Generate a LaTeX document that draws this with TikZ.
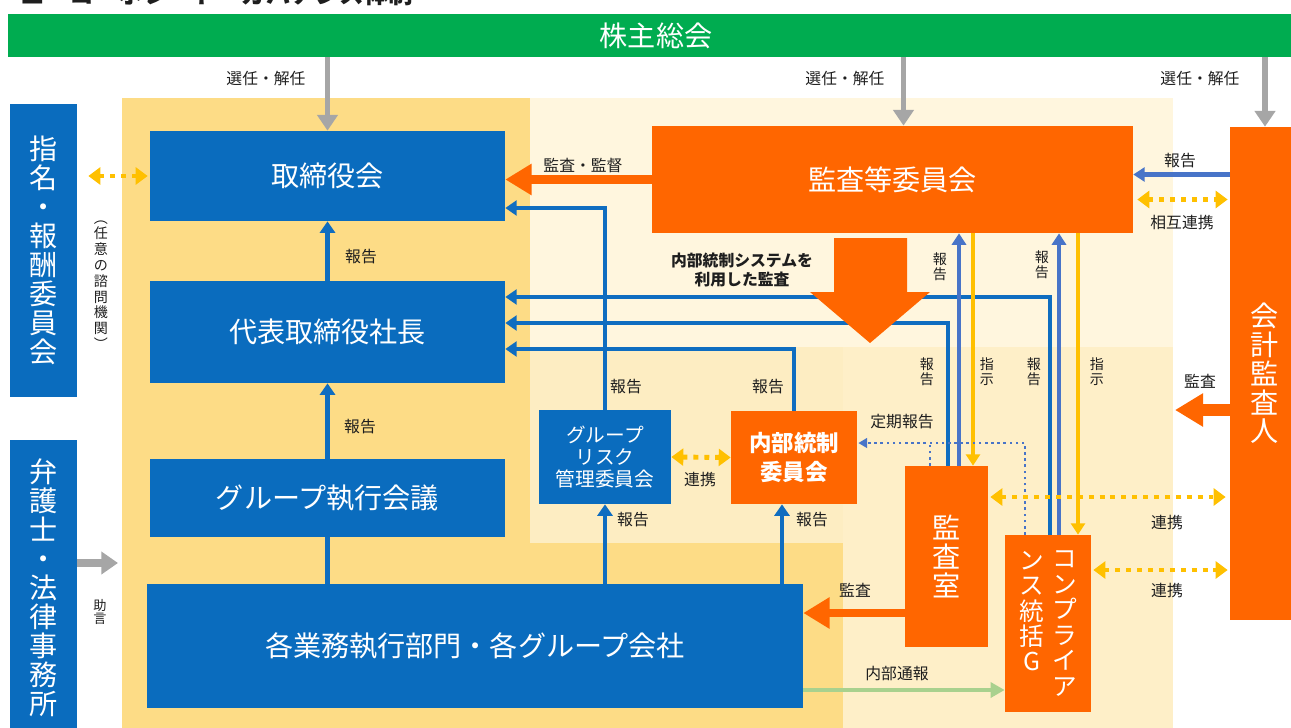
\documentclass[tikz,border=0pt]{standalone}
\usepackage{fontspec}
\setmainfont{Noto Sans CJK JP}
\usetikzlibrary{arrows.meta}
\usetikzlibrary{calc}

\definecolor{kabugreen}{HTML}{00AC50}
\definecolor{boxblue}{HTML}{0A6CBE}
\definecolor{lineblue}{HTML}{0F6DC0}
\definecolor{softblue}{HTML}{4874C8}
\definecolor{boxorange}{HTML}{FF6600}
\definecolor{amber}{HTML}{FFC000}
\definecolor{arrowgray}{HTML}{A6A6A6}
\definecolor{paleg}{HTML}{A9D18E}
\definecolor{bgdeep}{HTML}{FDDC86}
\definecolor{bglight}{HTML}{FFF6DE}
\definecolor{bgmid}{HTML}{FDEDC2}
\definecolor{bgmidr}{HTML}{FEEFC8}
\definecolor{ink}{HTML}{1E1E1E}

\tikzset{
  bluebox/.style={fill=boxblue, text=white, inner sep=0pt, align=center, font=\fontsize{16}{17}\selectfont},
  orbox/.style={fill=boxorange, text=white, inner sep=0pt, align=center, font=\fontsize{16}{17}\selectfont},
  tatebig/.style={text=white, inner sep=0pt, align=center, font=\fontsize{14}{14.5}\selectfont},
  lbl/.style={text=ink, inner sep=0pt, font=\fontsize{9}{11.3}\selectfont},
  tatelbl/.style={text=ink, inner sep=0pt, align=center, font=\fontsize{8}{8.6}\selectfont},
  grayarr/.style={draw=arrowgray, line width=3.4pt, -{Triangle[length=9pt,width=11.5pt]}},
  advarr/.style={draw=arrowgray, line width=4.5pt, -{Triangle[length=9.5pt,width=12.5pt]}},
  orarr/.style={draw=boxorange, line width=5pt, -{Triangle[length=15pt,width=17pt]}},
  orarrbig/.style={draw=boxorange, line width=6.5pt, -{Triangle[length=16pt,width=18pt]}},
  bluearr/.style={draw=lineblue, line width=2.8pt, -{Triangle[length=6.5pt,width=8.5pt]}},
  blueline/.style={draw=lineblue, line width=2.8pt},
  softarr/.style={draw=softblue, line width=2.6pt, -{Triangle[length=6.5pt,width=8pt]}},
  yarr/.style={draw=amber, line width=2.3pt, -{Triangle[length=6.5pt,width=8pt]}},
  ydots/.style={draw=amber, line width=2.8pt, dash pattern=on 2.8pt off 3.4pt,
    {Triangle[length=6.8pt,width=9.6pt]}-{Triangle[length=6.8pt,width=9.6pt]}},
  bdots/.style={draw=softblue, line width=1.5pt, dash pattern=on 1.5pt off 2pt},
  grarr/.style={draw=paleg, line width=2.3pt, -{Triangle[length=8pt,width=8.5pt]}}
}

\begin{document}
\begin{tikzpicture}[x=0.02cm, y=-0.02cm]
        \useasboundingbox (0,0) rectangle (1291,727);
        \clip (0,0) rectangle (1291,727);
        \fill[bgdeep] (122,98) rectangle (530,740);
        \fill[bgdeep] (530,543) rectangle (843,740);
        \fill[bglight] (530,98) rectangle (1173,347);
        \fill[bgmid] (530,347) rectangle (843,543);
        \fill[bgmidr] (843,347) rectangle (1173,740);
        \node[anchor=base west, inner sep=0pt, text=ink, font=\bfseries\fontsize{14}{14}\selectfont] (title) at (20,3.5) {■　コーポレート・ガバナンス体制};

        \node[fill=kabugreen, text=white, inner sep=0pt, minimum width=25.92cm, minimum height=0.86cm, font=\fontsize{16}{17}\selectfont] (holders) at (656,35.5) {株主総会};
        \node[bluebox, minimum width=7.1cm, minimum height=1.8cm] (board) at (327.5,176) {取締役会};
        \node[bluebox, minimum width=7.1cm, minimum height=2.04cm] (president) at (327.5,332) {代表取締役社長};
        \node[bluebox, minimum width=7.1cm, minimum height=1.56cm] (execmtg) at (327.5,498) {グループ執行会議};
        \node[bluebox, minimum width=13.12cm, minimum height=2.48cm] (divisions) at (475,646) {各業務執行部門・各グループ会社};
        \node[bluebox, minimum width=2.64cm, minimum height=1.88cm, font=\fontsize{11.2}{12.5}\selectfont] (riskcom) at (605,457) {グループ\\リスク\\管理委員会};
        \node[orbox, minimum width=2.52cm, minimum height=1.86cm, font=\bfseries\fontsize{12.8}{16}\selectfont] (iccom) at (794,457.5) {内部統制\\委員会};
        \node[orbox, minimum width=9.62cm, minimum height=2.14cm] (auditcom) at (892.5,179.5) {監査等委員会};
        \node[orbox, minimum width=1.66cm, minimum height=3.62cm, font=\fontsize{16}{16.6}\selectfont] (auditoff) at (946.5,556.5) {監\\査\\室};
        \node[orbox, minimum width=1.72cm, minimum height=3.54cm] (compli) at (1048,623.5) {};
        \node[tatebig, anchor=north] (compliR) at ($(compli.north)+(17,16)$) {コ\\ン\\プ\\ラ\\イ\\ア};
        \node[tatebig, anchor=north] (compliL) at ($(compli.north)+(-16,16)$) {ン\\ス\\統\\括\\G};
        \node[orbox, minimum width=1.4cm, minimum height=9.86cm, font=\fontsize{16}{16.4}\selectfont] (accaud) at (1265,373.5) {会\\計\\監\\査\\人};
        \node[bluebox, minimum width=1.34cm, minimum height=5.86cm, font=\fontsize{16}{16.5}\selectfont] (nomcom) at (43.5,250.5) {指\\名\\・\\報\\酬\\委\\員\\会};
        \node[bluebox, minimum width=1.34cm, minimum height=5.92cm, font=\fontsize{16}{16.5}\selectfont] (lawyers) at (43.5,588) {弁\\護\\士\\・\\法\\律\\事\\務\\所};

        \draw[grayarr] (holders.south -| board.north) -- (board.north);
        \coordinate (ac0) at ($(auditcom.north)+(11,0)$);
        \draw[grayarr] (holders.south -| ac0) -- (ac0);
        \draw[grayarr] (holders.south -| accaud.north) -- (accaud.north);
        \node[lbl] at (266,78) {選任・解任};
        \node[lbl] at (845,78) {選任・解任};
        \node[lbl] at (1200,78) {選任・解任};

        \draw[ydots] ($(nomcom.east |- board.west)+(11,0)$) -- ($(board.west)+(-2,0)$);
        \node[tatelbl, font=\fontsize{8}{9}\selectfont] at (101,285) {︵\\任\\意\\の\\諮\\問\\機\\関\\︶};
        \coordinate (advice) at (118,563);
        \draw[advarr] (lawyers.east |- advice) -- (advice);
        \node[tatelbl, font=\fontsize{7.5}{7.6}\selectfont] at (100,612) {助\\言};

        \draw[bluearr] (president.north) -- (board.south);
        \node[lbl] at (361,257) {報告};
        \draw[bluearr] (execmtg.north) -- (president.south);
        \node[lbl] at (360,427) {報告};
        \draw[blueline] (divisions.north -| execmtg.south) -- (execmtg.south);

        \draw[bluearr] (riskcom.north) |- ($(board.east)+(0,32)$);
        \node[lbl] at (626,387) {報告};
        \draw[bluearr] (iccom.north) |- ($(president.east)+(0,17)$);
        \node[lbl] at (768,387) {報告};
        \draw[bluearr] ($(auditoff.north)+(1.5,0)$) |- ($(president.east)+(0,-9)$);
        \draw[bluearr] ($(compli.north)+(2,0)$) |- ($(president.east)+(0,-35)$);
        \node[tatelbl] at (927,372) {報\\告};
        \node[tatelbl] at (1034,372) {報\\告};

        \coordinate (ao1) at ($(auditoff.north)+(12.5,0)$);
        \coordinate (ao2) at ($(auditoff.north)+(26.5,0)$);
        \coordinate (co1) at ($(compli.north)+(11,0)$);
        \coordinate (co2) at ($(compli.north)+(30,0)$);
        \draw[softarr] (ao1) -- (ao1 |- auditcom.south);
        \draw[softarr] (co1) -- (co1 |- auditcom.south);
        \draw[yarr] (ao2 |- auditcom.south) -- (ao2);
        \draw[yarr] (co2 |- auditcom.south) -- (co2);
        \node[tatelbl] at (940,267) {報\\告};
        \node[tatelbl] at (1042,265) {報\\告};
        \node[tatelbl] at (987,372) {指\\示};
        \node[tatelbl] at (1097,372) {指\\示};

        \fill[boxorange] (834,238) -- (907,238) -- (907,292) -- (930,292) -- (870,343) -- (810,292) -- (834,292) -- cycle;
        \node[lbl, align=center, font=\bfseries\fontsize{9}{11.3}\selectfont] at (742,270) {内部統制システムを\\利用した監査};

        \draw[orarr] (auditcom.west) -- (auditcom.west -| board.east);
        \node[lbl] at (583,165) {監査・監督};

        \draw[softarr] ($(accaud.west |- auditcom.east)+(0,-5)$) -- ($(auditcom.east)+(0,-5)$);
        \node[lbl] at (1180,161) {報告};
        \draw[ydots] ($(auditcom.east)+(4,20)$) -- ($(accaud.west |- auditcom.east)+(-2,20)$);
        \node[lbl] at (1182,223) {相互連携};

        \coordinate (audtip) at (1175,410);
        \draw[orarrbig] (accaud.west |- audtip) -- (audtip);
        \node[lbl] at (1200,381) {監査};

        \draw[ydots] (riskcom.east) -- (iccom.west);
        \node[lbl] at (700,479) {連携};
        \draw[bluearr] (divisions.north -| riskcom.south) -- (riskcom.south);
        \node[lbl] at (633,520) {報告};
        \coordinate (ic1) at ($(iccom.south)+(-12,0)$);
        \draw[bluearr] (divisions.north -| ic1) -- (ic1);
        \node[lbl] at (812,520) {報告};

        \coordinate (rep) at ($(iccom.east)+(1,-14.5)$);
        \coordinate (ao0) at ($(auditoff.north)+(-16.5,0)$);
        \draw[bdots] (ao0) -- (ao0 |- rep);
        \draw[bdots, -{Triangle[length=5pt,width=5.5pt]}] ($(compli.north)+(-23,0)$) |- (rep);
        \node[lbl] at (902,422) {定期報告};

        \coordinate (l1) at ($(auditoff.east)+(2,-59.5)$);
        \draw[ydots] (l1) -- ($(l1 -| accaud.west)+(-4,0)$);
        \node[lbl] at (1167,522) {連携};
        \coordinate (l2) at ($(compli.east)+(2,-53.5)$);
        \draw[ydots] (l2) -- ($(l2 -| accaud.west)+(-2,0)$);
        \node[lbl] at (1167,590) {連携};

        \coordinate (ao3) at ($(auditoff.west)+(0,56.5)$);
        \draw[orarr] (ao3) -- (ao3 -| divisions.east);
        \node[lbl] at (855,590) {監査};
        \coordinate (wb) at ($(divisions.east)+(0,44)$);
        \draw[grarr] (wb) -- (wb -| compli.west);
        \node[lbl] at (897,673) {内部通報};
    \end{tikzpicture}
\end{document}
